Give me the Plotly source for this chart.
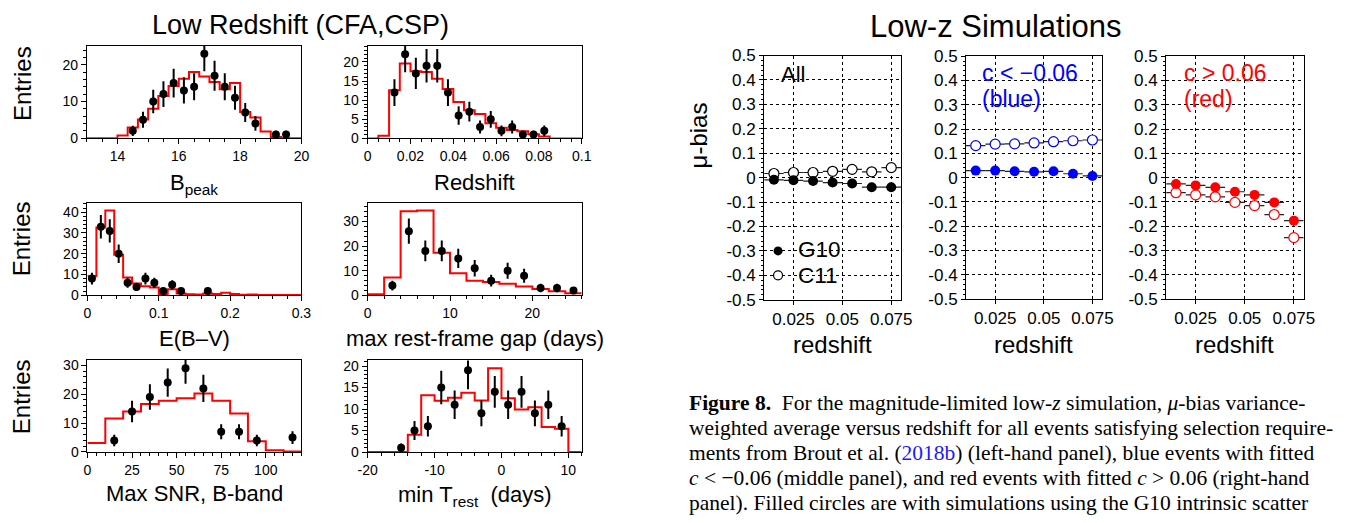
import plotly.graph_objects as go
import numpy as np

W, H = 1359, 523

# ---------------- Low redshift (CFA,CSP) histograms ----------------
# B_peak
bpeak_edges = [13.0, 14.0, 14.333, 14.667, 15.0, 15.333, 15.667, 16.0, 16.333, 16.667,
               17.0, 17.333, 17.667, 18.0, 18.333, 18.667, 19.0, 19.333, 20.0]
bpeak_sim = [0, 0.7, 2.9, 5.1, 8.0, 11.5, 14.2, 16.2, 18.0, 16.8, 15.3, 13.3, 15.0, 7.1, 5.6, 1.8, 0.3, 0]
bpeak_x = [14.5, 14.833, 15.167, 15.5, 15.833, 16.167, 16.5, 16.833, 17.167, 17.5, 17.833, 18.167, 18.5, 19.167, 19.5]
bpeak_n = [2, 5, 10, 12, 15, 13, 14, 23, 17, 14, 11, 7, 4, 1, 1]
bpeak_err = [1.4, 2.2, 3.2, 3.5, 3.9, 3.6, 3.7, 4.8, 4.1, 3.7, 3.3, 2.6, 2.0, 1.0, 1.0]

# Redshift
z_edges = [0, 0.005, 0.01, 0.015, 0.02, 0.025, 0.03, 0.035, 0.04, 0.045, 0.05, 0.055,
           0.06, 0.065, 0.07, 0.075, 0.08, 0.085, 0.1]
z_sim = [0, 0.7, 12.6, 19.6, 17.6, 17.4, 15.6, 12.9, 9.5, 7.4, 6.4, 4.0, 2.8, 2.2, 1.9, 1.1, 0.5, 0]
z_x = [0.0125, 0.0175, 0.0225, 0.0275, 0.0325, 0.0375, 0.0425, 0.0475, 0.0525, 0.0575,
       0.0625, 0.0675, 0.0725, 0.0775, 0.0825]
z_n = [12, 22, 17, 19, 19, 12, 6, 7, 3, 5, 2, 3, 1, 1, 2]
z_err = [3.5, 4.7, 4.1, 4.4, 4.4, 3.5, 2.4, 2.6, 1.7, 2.2, 1.4, 1.7, 1.0, 1.0, 1.4]

# E(B-V)
ebv_edges = [0, 0.0125, 0.025, 0.0375, 0.05, 0.0625, 0.075, 0.0875, 0.1, 0.1125, 0.125,
             0.1375, 0.15, 0.1625, 0.175, 0.1875, 0.2, 0.2125, 0.225, 0.2375, 0.3]
ebv_sim = [9.3, 32.7, 40.8, 19.5, 8.5, 5.7, 4.3, 3.7, 0.5, 2.9, 0.8, 0.5, 0.3, 0.8, 0.6, 1.2, 0.6, 0.2, 0.3, 0.1]
ebv_x = [0.00625, 0.01875, 0.03125, 0.04375, 0.05625, 0.06875, 0.08125, 0.09375,
         0.10625, 0.11875, 0.13125, 0.16875]
ebv_n = [8, 33, 31, 20, 6, 4, 8, 6, 2, 5, 2, 2]
ebv_err = [2.8, 5.7, 5.6, 4.5, 2.4, 2.0, 2.8, 2.4, 1.4, 2.2, 1.4, 1.4]

# max rest-frame gap
gap_edges = [0, 2, 4, 6, 8, 10, 12, 14, 16, 18, 20, 22, 24, 26]
gap_sim = [0.5, 7.3, 34.0, 34.3, 17.3, 9.0, 6.0, 5.5, 4.7, 3.6, 2.6, 1.7, 0.9]
gap_x = [3, 5, 7, 9, 11, 13, 15, 17, 19, 21, 23, 25]
gap_n = [4, 26, 18, 18, 15, 11, 6, 10, 8, 3, 3, 2]
gap_err = [2.0, 5.1, 4.2, 4.2, 3.9, 3.3, 2.4, 3.2, 2.8, 1.7, 1.7, 1.4]

# Max SNR, B-band
snr_edges = [0, 10, 20, 30, 40, 50, 60, 70, 80, 90, 100, 110, 120]
snr_sim = [3.1, 11.6, 14.0, 16.6, 17.7, 18.6, 20.2, 17.7, 13.3, 3.7, 0.6, 0.2]
snr_x = [15, 25, 35, 45, 55, 65, 75, 85, 95, 115]
snr_n = [4, 14, 19, 24, 29, 22, 7, 7, 4, 5]
snr_err = [2.0, 3.7, 4.4, 4.9, 5.4, 4.7, 2.6, 2.6, 2.0, 2.2]

# min T_rest
t_edges = [-20, -14, -12, -10, -8, -6, -4, -2, 0, 2, 4, 6, 8, 10, 12]
t_sim = [0, 4.0, 13.2, 11.9, 12.6, 13.8, 12.0, 19.5, 12.5, 9.9, 10.4, 5.8, 5.4, 0]
t_x = [-15, -13, -11, -9, -7, -5, -3, -1, 1, 3, 5, 7, 9]
t_n = [1, 5, 6, 15, 11, 19, 9, 14, 11, 14, 9, 11, 6]
t_err = [1.0, 2.2, 2.4, 3.9, 3.3, 4.4, 3.0, 3.7, 3.3, 3.7, 3.0, 3.3, 2.4]

# ---------------- Low-z simulations (mu-bias) ----------------
sim_z = [0.015, 0.025, 0.035, 0.045, 0.055, 0.065, 0.075]
sim_zhalf = [0.005, 0.005, 0.005, 0.005, 0.005, 0.005, 0.005]
all_g10 = [-0.009, -0.011, -0.014, -0.020, -0.024, -0.039, -0.039]
all_c11 = [0.017, 0.021, 0.021, 0.026, 0.034, 0.024, 0.041]
blue_g10 = [0.029, 0.029, 0.026, 0.024, 0.026, 0.016, 0.007]
blue_c11 = [0.132, 0.138, 0.139, 0.143, 0.148, 0.152, 0.155]
red_g10 = [-0.026, -0.032, -0.040, -0.058, -0.071, -0.102, -0.177]
red_c11 = [-0.062, -0.071, -0.079, -0.102, -0.115, -0.152, -0.247]

mu_ticks = [0.5, 0.4, 0.3, 0.2, 0.1, 0, -0.1, -0.2, -0.3, -0.4, -0.5]
mu_ticktext = ["0.5", "0.4", "0.3", "0.2", "0.1", "0", "-0.1", "-0.2", "-0.3", "-0.4", "-0.5"]
zsim_ticks = [0.025, 0.05, 0.075]
zsim_ticktext = ["0.025", "0.05", "0.075"]

# ---------------- helpers ----------------
def xd(a, b):
    return [a / W, b / W]

def yd(top, bot):
    return [1 - bot / H, 1 - top / H]

SANS = "Liberation Sans, Arial, sans-serif"
SERIF = "Liberation Serif, Times New Roman, serif"

fig = go.Figure()

hist_panels = [
    (bpeak_edges, bpeak_sim, bpeak_x, bpeak_n, bpeak_err, ""),
    (z_edges, z_sim, z_x, z_n, z_err, "2"),
    (ebv_edges, ebv_sim, ebv_x, ebv_n, ebv_err, "3"),
    (gap_edges, gap_sim, gap_x, gap_n, gap_err, "4"),
    (snr_edges, snr_sim, snr_x, snr_n, snr_err, "5"),
    (t_edges, t_sim, t_x, t_n, t_err, "6"),
]

for edges, sim, xs, ns, errs, s in hist_panels:
    fig.add_trace(go.Scatter(
        x=edges, y=list(sim) + [sim[-1]], mode="lines", line_shape="hv",
        line=dict(color="#ff0000", width=2), xaxis="x" + s, yaxis="y" + s,
        showlegend=False, hoverinfo="skip"))
    fig.add_trace(go.Scatter(
        x=xs, y=ns, mode="markers",
        marker=dict(color="black", size=8),
        error_y=dict(type="data", array=errs, visible=True, thickness=2, width=0, color="black"),
        xaxis="x" + s, yaxis="y" + s, showlegend=False, cliponaxis=False))

sim_panels = [
    (all_g10, all_c11, "#000000", "7"),
    (blue_g10, blue_c11, "#0000ff", "8"),
    (red_g10, red_c11, "#ff0000", "9"),
]
for g10, c11, col, s in sim_panels:
    fig.add_trace(go.Scatter(
        x=sim_z, y=c11, mode="markers",
        marker=dict(color="white", size=10, line=dict(color=col, width=1.2)),
        error_x=dict(type="data", array=sim_zhalf, visible=True, thickness=1.2, width=0, color="#222222"),
        xaxis="x" + s, yaxis="y" + s, showlegend=False))
    fig.add_trace(go.Scatter(
        x=sim_z, y=g10, mode="markers",
        marker=dict(color=col, size=10, line=dict(color=col, width=0)),
        error_x=dict(type="data", array=sim_zhalf, visible=True, thickness=1.2, width=0, color="#222222"),
        xaxis="x" + s, yaxis="y" + s, showlegend=False))

# legend symbols inside the "All" panel
fig.add_trace(go.Scatter(x=[0.0171], y=[-0.3], mode="markers",
                         marker=dict(color="black", size=9),
                         xaxis="x7", yaxis="y7", showlegend=False, hoverinfo="skip"))
fig.add_trace(go.Scatter(x=[0.0171], y=[-0.4], mode="markers",
                         marker=dict(color="white", size=9, line=dict(color="black", width=1.2)),
                         xaxis="x7", yaxis="y7", showlegend=False, hoverinfo="skip"))

base_ax = dict(showline=True, linecolor="black", linewidth=1, mirror=True,
               ticks="outside", ticklen=5, tickcolor="black", tickwidth=1,
               showgrid=False, zeroline=False, tickmode="array",
               tickfont=dict(family=SANS, size=14, color="black"))

def hax(dom, rng, tv, tt, minor_vals, **kw):
    d = dict(base_ax)
    d.update(domain=dom, range=rng, tickvals=tv, ticktext=tt,
             minor=dict(ticks="outside", ticklen=3, tickcolor="black", tickmode="array",
                        tickvals=minor_vals, showgrid=False))
    d.update(kw)
    return d

def mk(a, b, step):
    return [round(v, 6) for v in np.arange(a, b + step / 2, step)]

lay = {}
lay["xaxis"] = hax(xd(78, 296), [13, 20], [14, 16, 18, 20], ["14", "16", "18", "20"], mk(13, 20, 0.5), anchor="y")
lay["yaxis"] = hax(yd(38, 134), [0, 25.2], [0, 10, 20], ["0", "10", "20"], mk(0, 24, 2), anchor="x")
lay["xaxis2"] = hax(xd(363.3, 580.7), [0, 0.1], [0, 0.02, 0.04, 0.06, 0.08, 0.1],
                    ["0", "0.02", "0.04", "0.06", "0.08", "0.1"], mk(0, 0.1, 0.005), anchor="y2")
lay["yaxis2"] = hax(yd(38.3, 134.3), [0, 24.2], [0, 5, 10, 15, 20], ["0", "5", "10", "15", "20"],
                    mk(0, 24, 1), anchor="x2")
lay["xaxis3"] = hax(xd(78.7, 296), [0, 0.3], [0, 0.1, 0.2, 0.3], ["0", "0.1", "0.2", "0.3"],
                    mk(0, 0.3, 0.02), anchor="y3")
lay["yaxis3"] = hax(yd(201, 297), [0, 44.6], [0, 10, 20, 30, 40], ["0", "10", "20", "30", "40"],
                    mk(0, 44, 2), anchor="x3")
lay["xaxis4"] = hax(xd(363.3, 580.7), [0, 26], [0, 10, 20], ["0", "10", "20"], mk(0, 26, 2), anchor="y4")
lay["yaxis4"] = hax(yd(201, 297.3), [0, 37.5], [0, 10, 20, 30], ["0", "10", "20", "30"],
                    mk(0, 36, 2), anchor="x4")
lay["xaxis5"] = hax(xd(78.7, 296), [0, 120], [0, 25, 50, 75, 100], ["0", "25", "50", "75", "100"],
                    mk(0, 120, 5), anchor="y5")
lay["yaxis5"] = hax(yd(364, 459.7), [0, 31.9], [0, 10, 20, 30], ["0", "10", "20", "30"],
                    mk(0, 30, 2), anchor="x5")
lay["xaxis6"] = hax(xd(363.3, 580.7), [-20, 12], [-20, -10, 0, 10], ["-20", "-10", "0", "10"],
                    mk(-20, 12, 2), anchor="y6")
lay["yaxis6"] = hax(yd(364.7, 459.7), [0, 21.3], [0, 5, 10, 15, 20], ["0", "5", "10", "15", "20"],
                    mk(0, 21, 1), anchor="x6")

sim_x_dom = [xd(766, 905), xd(971, 1109.3), xd(1174.3, 1314)]
sim_y_dom = [yd(48.3, 301.7), yd(49, 301), yd(49, 301)]
for i, s in enumerate(["7", "8", "9"]):
    xa = dict(base_ax)
    xa.update(domain=sim_x_dom[i], range=[0.01, 0.08], tickvals=zsim_ticks, ticktext=zsim_ticktext,
              showgrid=True, gridcolor="black", griddash="dot", gridwidth=1,
              tickfont=dict(family=SANS, size=17, color="black"), ticklen=4, anchor="y" + s)
    ya = dict(base_ax)
    ya.update(domain=sim_y_dom[i], range=[-0.5, 0.5], tickvals=mu_ticks, ticktext=mu_ticktext,
              showgrid=True, gridcolor="black", griddash="dot", gridwidth=1,
              tickfont=dict(family=SANS, size=17, color="black"), ticklen=4, anchor="x" + s,
              minor=dict(ticks="outside", ticklen=2, tickcolor="black", tickmode="array",
                         tickvals=mk(-0.5, 0.5, 0.02), showgrid=False))
    lay["xaxis" + s] = xa
    lay["yaxis" + s] = ya

annots = []

def txt(x, y, t, size, color="black", family=SANS, xanchor="center", angle=0):
    annots.append(dict(x=x / W, y=1 - y / H, xref="paper", yref="paper", text=t, showarrow=False,
                       xanchor=xanchor, yanchor="middle", textangle=angle,
                       font=dict(family=family, size=size, color=color)))

txt(295, 17, "Low Redshift (CFA,CSP)", 27)
for yy in [77, 238, 402]:
    txt(12, yy, "Entries", 24, angle=-90)
txt(187, 182, "B<sub>peak</sub>", 22)
txt(472, 180, "Redshift", 22)
txt(187, 342, "E(B–V)", 22)
txt(472, 342, "max rest-frame gap (days)", 22)
txt(187, 503, "Max SNR, B-band", 22)
txt(472, 505, "min T<sub>rest</sub>  (days)", 22)

txt(1001, 18, "Low-z Simulations", 31)
txt(699, 131, "μ-bias", 24, angle=-90)
for cx in [835.5, 1040, 1244]:
    txt(cx, 348, "redshift", 24)
txt(781, 68, "All", 22, xanchor="left")
txt(798, 250, "G10", 22.5, xanchor="left")
txt(798, 277, "C11", 22.5, xanchor="left")
txt(985, 66, "c &lt; −0.06", 23, color="#0000ff", xanchor="left")
txt(985, 93, "(blue)", 23, color="#0000ff", xanchor="left")
txt(1190, 66, "c &gt; 0.06", 23, color="#ff0000", xanchor="left")
txt(1190, 93, "(red)", 23, color="#ff0000", xanchor="left")

caption = [
    "<b>Figure 8.</b>  For the magnitude-limited low-<i>z</i> simulation, <i>μ</i>-bias variance-",
    "weighted average versus redshift for all events satisfying selection require-",
    "ments from Brout et al. (<span style='color:#1a1aff'>2018b</span>) (left-hand panel), blue events with fitted",
    "<i>c</i> &lt; −0.06 (middle panel), and red events with fitted <i>c</i> &gt; 0.06 (right-hand",
    "panel). Filled circles are with simulations using the G10 intrinsic scatter",
]
for k, line in enumerate(caption):
    txt(688, 409 + 26 * k, line, 21.5, family=SERIF, xanchor="left")

fig.update_layout(width=W, height=H, margin=dict(l=0, r=0, t=0, b=0),
                  paper_bgcolor="white", plot_bgcolor="white",
                  annotations=annots, showlegend=False, **lay)

fig.write_html("out.html", config={"displayModeBar": False},
               post_script="document.body.style.margin='0';document.body.style.overflow='hidden';")
